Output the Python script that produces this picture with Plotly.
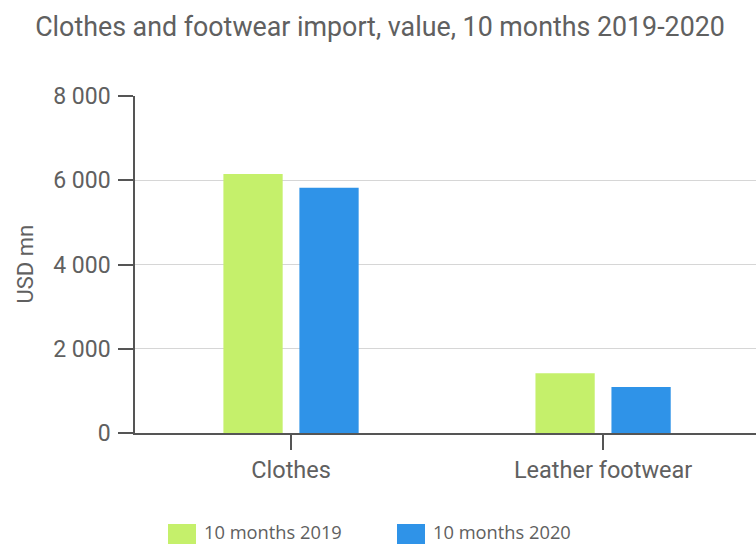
import plotly.graph_objects as go

categories = ["Clothes", "Leather footwear"]
series_names = ["10 months 2019", "10 months 2020"]
values_2019 = [6150, 1420]
values_2020 = [5820, 1090]
colors = ["#c5f06b", "#2f93e8"]
y_ticks = [0, 2000, 4000, 6000, 8000]

W, H = 756, 544
ml, mr, mt, mb = 135, 0, 96, 111
pw = W - ml - mr
txt = "#606060"

fig = go.Figure()
for name, vals, col in zip(series_names, [values_2019, values_2020], colors):
    fig.add_trace(go.Bar(x=categories, y=vals, name=name, marker=dict(color=col, line=dict(width=0)),
                         showlegend=False))

fig.update_layout(
    width=W, height=H,
    margin=dict(l=ml, r=mr, t=mt, b=mb),
    paper_bgcolor="white", plot_bgcolor="white",
    separators=". ",
    barmode="group", bargap=0.513, bargroupgap=0.22,
    font=dict(family="Roboto", color=txt),
    title=dict(text="Clothes and footwear import, value, 10 months 2019-2020",
               x=380 / W, xref="container", xanchor="center", y=1 - 27 / H, yanchor="middle",
               font=dict(size=26.8, family="Roboto", color=txt)),
    xaxis=dict(range=[-0.5, 1.49], showline=True, linecolor="#555555", linewidth=1.5,
               ticks="outside", ticklen=15, tickcolor="#555555", tickwidth=1.5,
               tickfont=dict(size=23.5, family="Roboto", color=txt), showgrid=False, fixedrange=True),
    yaxis=dict(range=[0, 8000], tickvals=y_ticks, tickformat=",d", showline=True, linecolor="#555555",
               linewidth=1.5, ticks="outside", ticklen=15, tickcolor="#555555", tickwidth=1.5,
               showgrid=True, gridcolor="#d6d6d6", gridwidth=1, zeroline=False,
               tickfont=dict(size=23, family="Roboto", color=txt), ticklabelstandoff=3),
    showlegend=False,
)

# y-axis title
fig.add_annotation(text="USD mn", xref="paper", yref="paper", x=(25 - ml) / pw, y=0.5,
                   xanchor="center", yanchor="middle", textangle=-90, showarrow=False,
                   font=dict(size=22, family="Roboto", color=txt))

# custom legend
ph = H - mt - mb
def py(ypix):
    return (H - mb - ypix) / ph
def px(xpix):
    return (xpix - ml) / pw

leg_x = [168, 397]
for lx, name, col in zip(leg_x, series_names, colors):
    fig.add_shape(type="rect", xref="paper", yref="paper", x0=px(lx), x1=px(lx + 28),
                  y0=py(552), y1=py(524), fillcolor=col, line=dict(width=0), layer="above")
    fig.add_annotation(text=name, xref="paper", yref="paper", x=px(lx + 34), y=py(531),
                       xanchor="left", yanchor="middle", showarrow=False,
                       font=dict(size=18.3, family="Open Sans", color=txt))

fig.write_html("out.html", config={"displayModeBar": False},
               post_script="document.body.style.margin='0';document.body.style.overflow='hidden';")
